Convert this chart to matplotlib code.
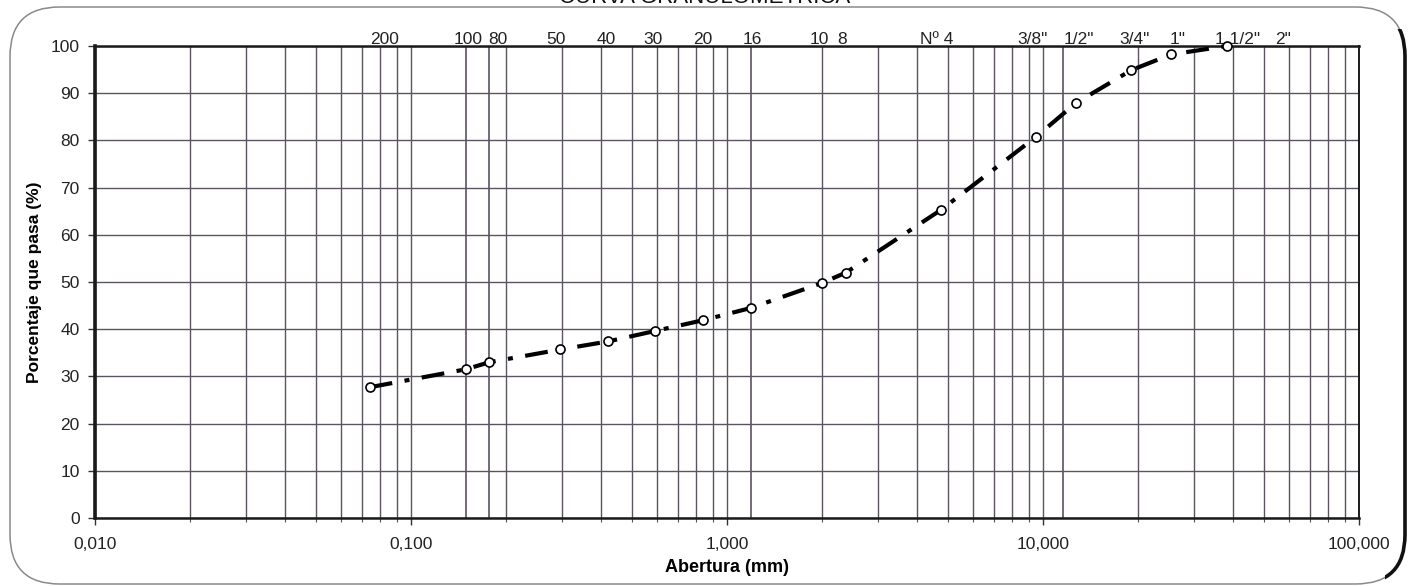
import matplotlib
matplotlib.use("Agg")
import matplotlib.pyplot as plt
from matplotlib.patches import FancyBboxPatch, Rectangle
from matplotlib.transforms import offset_copy
import numpy as np

plt.rcParams['font.family'] = ['Liberation Sans', 'DejaVu Sans']

# ---- data ----
sieve_names = ["200", "100", "80", "50", "40", "30", "20", "16", "10", "8",
               "Nº 4", "3/8\"", "1/2\"", "3/4\"", "1\"", "1 1/2\"", "2\""]
sieve_mm = [0.074, 0.149, 0.177, 0.297, 0.42, 0.59, 0.84, 1.19, 2.0, 2.38,
            4.76, 9.525, 12.7, 19.05, 25.4, 38.1, 50.8]
label_dx_pt = [11, 2, 6, -3, -1, -1, 0, 1, -2, -3, -3, -3, 2, 2, 5, 8, 12]

point_mm = [0.074, 0.149, 0.177, 0.297, 0.42, 0.59, 0.84, 1.19, 2.0, 2.38,
            4.76, 9.525, 12.7, 19.05, 25.4, 38.1]
passing = [27.7, 31.5, 33.0, 35.7, 37.4, 39.6, 41.9, 44.5, 49.8, 52.0,
           65.3, 80.8, 87.9, 94.9, 98.2, 100.0]

extra_line_mm = [0.149, 0.177, 1.19, 11.6]

x_ticks = [0.01, 0.1, 1, 10, 100]
x_tick_labels = ["0,010", "0,100", "1,000", "10,000", "100,000"]
y_ticks = list(range(0, 101, 10))

W, H = 1414, 586
fig = plt.figure(figsize=(W / 100, H / 100), dpi=100)

# rounded frame
frame = FancyBboxPatch((10 / W, 1 - 584 / H), (1405 - 10) / W, (584 - 7) / H,
                       boxstyle="round,pad=0,rounding_size=0.035",
                       transform=fig.transFigure, facecolor="none",
                       edgecolor="#8a8a8a", linewidth=1.1, mutation_aspect=W / H)
fig.patches.append(frame)
frame2 = FancyBboxPatch((10 / W, 1 - 584 / H), (1405 - 10) / W, (584 - 7) / H,
                        boxstyle="round,pad=0,rounding_size=0.035",
                        transform=fig.transFigure, facecolor="none",
                        edgecolor="#111111", linewidth=2.6, mutation_aspect=W / H)
fig.patches.append(frame2)
clip = Rectangle((1385 / W, 0), 40 / W, 0.95, transform=fig.transFigure)
frame2.set_clip_path(clip)

ax = fig.add_axes([95 / W, 1 - 518 / H, (1359 - 95) / W, (518 - 46) / H])
ax.set_xscale("log")
ax.set_xlim(0.01, 100)
ax.set_ylim(0, 100)

grid_c = "#5b5361"
ax.set_xticks(x_ticks)
ax.set_xticklabels(x_tick_labels)
ax.set_yticks(y_ticks)
ax.xaxis.grid(True, which="both", color=grid_c, linewidth=1.0)
ax.yaxis.grid(True, which="major", color=grid_c, linewidth=1.0)
ax.set_axisbelow(True)
for xm in extra_line_mm:
    ax.axvline(xm, color=grid_c, linewidth=1.2, zorder=0.5)

ax.tick_params(axis="both", which="major", labelsize=12.5, length=5, width=1.0,
               color="#333333", labelcolor="#222222", direction="out")
ax.tick_params(axis="x", which="minor", length=3, width=0.8, color="#555555", labelbottom=False)
ax.tick_params(axis="x", pad=9)
ax.tick_params(axis="y", pad=6)

for side, lw in (("left", 2.6), ("bottom", 1.8), ("top", 1.8), ("right", 1.4)):
    ax.spines[side].set_linewidth(lw)
    ax.spines[side].set_color("#1a1a1a")

# sieve labels on top
for name, mm, dx in zip(sieve_names, sieve_mm, label_dx_pt):
    tr = offset_copy(ax.transData, fig=fig, x=dx, y=-1, units="points")
    ax.text(mm, 100, name, ha="center", va="bottom", fontsize=12.5, color="#222222",
            clip_on=False, transform=tr)

# curve
ax.plot(point_mm, passing, color="black", linewidth=3.0,
        dashes=(5.5, 3, 1.2, 3), dash_capstyle="butt", zorder=3,
        marker="o", markersize=6.5, markerfacecolor="white",
        markeredgecolor="black", markeredgewidth=1.2, clip_on=False)

ax.set_xlabel("Abertura (mm)", fontsize=13, fontweight="bold", labelpad=5)
ax.set_ylabel("Porcentaje que pasa (%)", fontsize=12.5, fontweight="bold", labelpad=6)

fig.text(705 / W, 1 - 3.0 / H, "CURVA GRANULOMETRICA", ha="center", va="baseline",
         fontsize=16, color="#111111")

fig.savefig("out.png", dpi=100)
